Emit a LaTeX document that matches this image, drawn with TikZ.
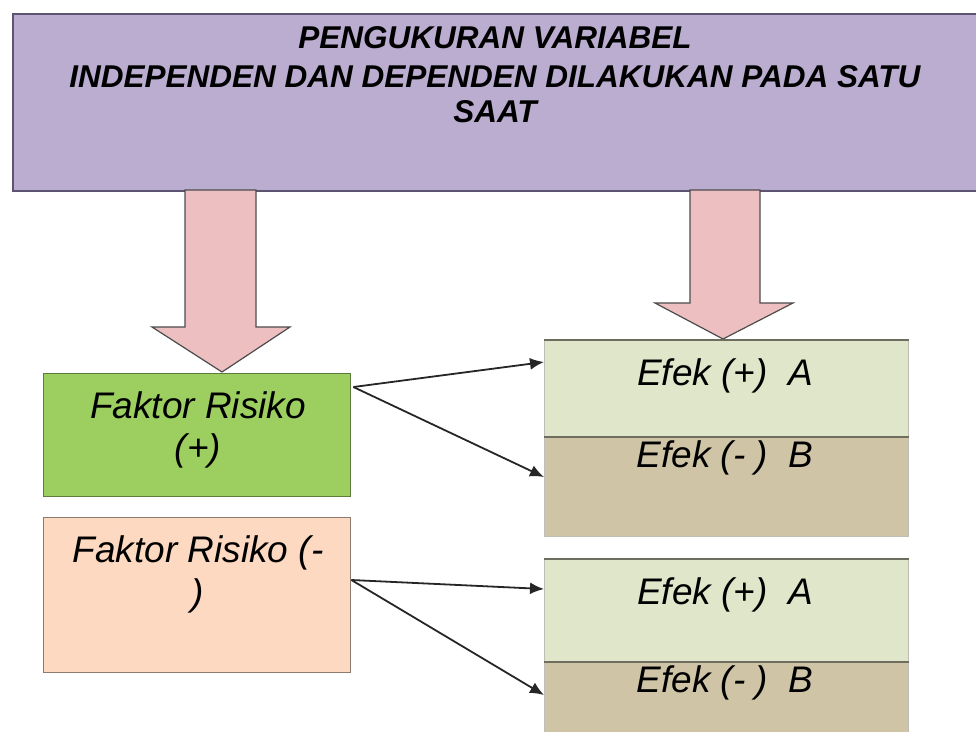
\documentclass[tikz,border=0pt]{standalone}
\usepackage{fontspec}
\setmainfont{Liberation Sans}
\usetikzlibrary{arrows.meta,calc}
\definecolor{lav}{HTML}{BBADD0}
\definecolor{lavline}{HTML}{5C5470}
\definecolor{pinkarrow}{HTML}{EDBFC0}
\definecolor{fgreen}{HTML}{9CCF5F}
\definecolor{fgreenline}{HTML}{5E7A3C}
\definecolor{fpeach}{HTML}{FCD9C0}
\definecolor{fpeachline}{HTML}{8C7A6E}
\definecolor{elight}{HTML}{DFE6C9}
\definecolor{etan}{HTML}{CFC5A6}
\definecolor{eline}{HTML}{6E6E5E}
\begin{document}
\begin{tikzpicture}[x=1pt,y=-1pt,
  box/.style={rectangle, inner sep=0pt, anchor=north west},
  ebox/.style={box, draw=eline!45, line width=0.8pt, minimum width=364pt},
  lbl/.style={anchor=base, inner sep=0pt, font=\fontsize{37}{43}\selectfont\itshape},
  bigarrow/.style={fill=pinkarrow, draw=black!70, line width=1.2pt, line join=miter},
  conn/.style={draw=black!85, line width=1.8pt, -{Latex[length=14pt,width=12pt]}},
  toprule/.style={draw=eline, line width=1.5pt}
]
\useasboundingbox (0,0) rectangle (976,731);

% title box
\node[box, fill=lav, draw=lavline, line width=1.5pt, minimum width=970pt, minimum height=177pt] (top) at (12,13) {};
\node[anchor=base, inner sep=0pt, font=\fontsize{31.5}{37}\selectfont\bfseries\itshape] (title1) at (495,48) {PENGUKURAN VARIABEL};
\node[anchor=base, inner sep=0pt, font=\fontsize{31.5}{37}\selectfont\bfseries\itshape] (title2) at (495,87) {INDEPENDEN DAN DEPENDEN DILAKUKAN PADA SATU};
\node[anchor=base, inner sep=0pt, font=\fontsize{31.5}{37}\selectfont\bfseries\itshape] (title3) at (495,122) {SAAT};

% big arrows
\draw[bigarrow] (185,190) -- (185,327) -- (152,327) -- (222,372) -- (290,327) -- (256,327) -- (256,190) -- cycle;
\draw[bigarrow] (690,190) -- (690,303) -- (655,303) -- (723,339) -- (793,303) -- (760,303) -- (760,190) -- cycle;

% factor boxes
\node[box, fill=fgreen, draw=fgreenline, line width=1.4pt, minimum width=307pt, minimum height=123pt] (fplus) at (43,373) {};
\node[lbl] (fplustxt) at (198,418) {Faktor Risiko};
\node[lbl] (fplustxt2) at (198,460) {(+)};

\node[box, fill=fpeach, draw=fpeachline, line width=1.4pt, minimum width=307pt, minimum height=155pt] (fminus) at (43,517) {};
\node[lbl] (fminustxt) at (198,562) {Faktor Risiko (-};
\node[lbl] (fminustxt2) at (198,605) {)};

% effect boxes
\node[ebox, fill=elight, minimum height=97pt] (e1) at (544,340) {};
\node[ebox, fill=etan, minimum height=99pt] (e2) at (544,437) {};
\node[ebox, fill=elight, minimum height=103pt] (e3) at (544,559) {};
\node[ebox, fill=etan, minimum height=75pt] (e4) at (544,662) {};
\draw[toprule] (e1.north west) -- (e1.north east);
\draw[toprule] (e2.north west) -- (e2.north east);
\draw[toprule] (e3.north west) -- (e3.north east);
\draw[toprule] (e4.north west) -- (e4.north east);

\node[lbl] (e1txt) at (725,385) {Efek (+)\ \ A};
\node[lbl] (e2txt) at (725,467) {Efek (- )\ \ B};
\node[lbl] (e3txt) at (725,604) {Efek (+)\ \ A};
\node[lbl] (e4txt) at (725,692) {Efek (- )\ \ B};

% connectors
\coordinate (s1) at ($(fplus.north east)+(2,14)$);
\coordinate (s2) at ($(fminus.north east)+(0,63)$);
\coordinate (t1) at ($(e1.north west)+(0,22)$);
\coordinate (t2) at ($(e2.north west)+(0,40)$);
\coordinate (t3) at ($(e3.north west)+(0,30)$);
\coordinate (t4) at ($(e4.north west)+(0,33)$);
\draw[conn] (s1) -- (t1);
\draw[conn] (s1) -- (t2);
\draw[conn] (s2) -- (t3);
\draw[conn] (s2) -- (t4);
\end{tikzpicture}
\end{document}
